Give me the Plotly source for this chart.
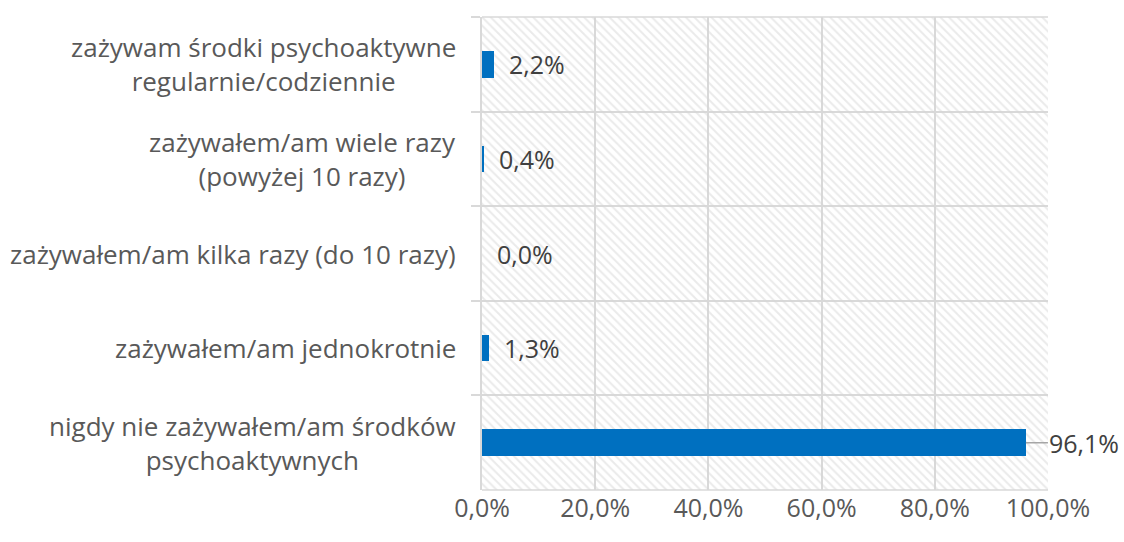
import plotly.graph_objects as go

# Survey answers (top to bottom) and share of respondents in percent
categories = [
    "zażywam środki psychoaktywne<br>regularnie/codziennie",
    "zażywałem/am wiele razy<br>(powyżej 10 razy)",
    "zażywałem/am kilka razy (do 10 razy)",
    "zażywałem/am jednokrotnie",
    "nigdy nie zażywałem/am środków<br>psychoaktywnych",
]
values = [2.2, 0.4, 0.0, 1.3, 96.1]
x_ticks = [0, 20, 40, 60, 80, 100]

FONT = "Open Sans"
TXT = "#595959"
GRID = "#d9d9d9"
BLUE = "#0070C0"
FS = 25


def fmt(v):
    return f"{v:.1f}".replace(".", ",") + "%"


fig = go.Figure()

# hatched plot background: one full-width band per category
fig.add_trace(go.Bar(
    y=categories, x=[x_ticks[-1]] * len(categories), orientation="h",
    width=1, marker=dict(color="rgba(0,0,0,0)", line=dict(width=0),
                         pattern=dict(shape="\\", fgcolor="#d6d6d6", size=6, solidity=0.33)),
    hoverinfo="skip", showlegend=False,
))

fig.add_trace(go.Bar(
    y=categories, x=values, orientation="h", width=0.28,
    marker=dict(color=BLUE, line=dict(width=0)), showlegend=False,
))

annotations = []
for cat, v in zip(categories, values):
    if v > 90:
        annotations.append(dict(
            x=v, y=cat, xref="x", yref="y", text=fmt(v), showarrow=True,
            ax=22, ay=0, xanchor="left", arrowhead=0, arrowwidth=1.5,
            arrowcolor="#a6a6a6", standoff=0, borderpad=0,
            font=dict(family=FONT, size=FS, color="#404040"),
        ))
    else:
        annotations.append(dict(
            x=v, y=cat, xref="x", yref="y", text=fmt(v), showarrow=False,
            xanchor="left", xshift=13,
            font=dict(family=FONT, size=FS, color="#404040"),
        ))
    # category label, lines centred within the block
    annotations.append(dict(
        x=0, y=cat, xref="paper", yref="y", text=cat, showarrow=False,
        xanchor="right", xshift=-24, align="center",
        font=dict(family=FONT, size=26, color=TXT),
    ))

fig.update_layout(
    width=1124, height=542,
    margin=dict(l=482, r=76, t=17, b=52),
    paper_bgcolor="white", plot_bgcolor="white",
    barmode="overlay", bargap=0,
    annotations=annotations,
    font=dict(family=FONT, size=FS, color=TXT),
)
fig.update_xaxes(
    range=[0, 100], tickvals=x_ticks, ticktext=[fmt(t) for t in x_ticks],
    showgrid=True, gridcolor=GRID, gridwidth=1.5, zeroline=False,
    showline=False, ticks="", ticklabelstandoff=1,
    tickfont=dict(family=FONT, size=FS, color=TXT), fixedrange=True,
)
fig.update_yaxes(
    autorange="reversed", showticklabels=False,
    showgrid=True, gridcolor=GRID, gridwidth=1.5,
    ticks="outside", tickson="boundaries", ticklen=9, tickcolor=GRID, tickwidth=1.5,
    showline=True, linecolor=GRID, linewidth=1.5, mirror=False,
)
fig.add_shape(type="line", xref="paper", yref="paper", x0=0, x1=1, y0=0, y1=0,
              line=dict(color=GRID, width=1.5))
fig.add_shape(type="line", xref="paper", yref="paper", x0=0, x1=1, y0=1, y1=1,
              line=dict(color=GRID, width=1.5))

fig.write_html("out.html")
